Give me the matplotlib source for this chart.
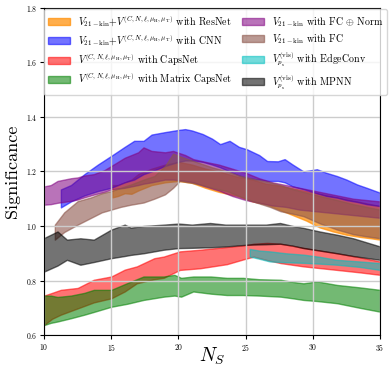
import matplotlib
matplotlib.use("Agg")
import matplotlib.pyplot as plt

plt.rcParams['font.family'] = 'serif'
plt.rcParams['font.serif'] = ['cmr10', 'DejaVu Serif']
plt.rcParams['mathtext.fontset'] = 'cm'
plt.rcParams['axes.formatter.use_mathtext'] = True

# ResNet (orange)
x_res = [15.1, 15.5, 16, 16.5, 17, 17.5, 18, 19, 20, 21, 22, 23, 24.4, 25.5, 26.5, 27.5,
         28.5, 29.5, 30.5, 31.5, 32.5, 33.5, 34.3, 35]
hi_res = [1.15, 1.15, 1.16, 1.17, 1.19, 1.20, 1.21, 1.225, 1.235, 1.225, 1.21, 1.20, 1.18, 1.17,
          1.155, 1.148, 1.138, 1.128, 1.118, 1.108, 1.098, 1.088, 1.08, 1.073]
lo_res = [1.105, 1.11, 1.12, 1.118, 1.13, 1.14, 1.15, 1.16, 1.165, 1.158, 1.14, 1.125, 1.11, 1.09,
          1.08, 1.06, 1.04, 1.02, 0.995, 0.98, 0.968, 0.96, 0.955, 0.95]

# CNN (blue)
x_cnn = [11.25, 12, 13, 14, 15, 16, 16.7, 17.4, 18, 19, 20, 20.5, 21, 21.8, 22.5, 23.1, 23.8,
         24.5, 25.1, 26, 26.6, 27.4, 27.9, 28.5, 29.3, 30.3, 31, 31.8, 32.5, 33.3, 34, 35]
hi_cnn = [1.134, 1.15, 1.19, 1.225, 1.257, 1.29, 1.312, 1.312, 1.335, 1.344, 1.352, 1.355, 1.35,
          1.337, 1.32, 1.30, 1.312, 1.29, 1.281, 1.26, 1.238, 1.237, 1.245, 1.225, 1.20, 1.208,
          1.195, 1.183, 1.17, 1.152, 1.14, 1.122]
lo_cnn = [1.068, 1.09, 1.112, 1.128, 1.14, 1.16, 1.17, 1.19, 1.20, 1.22, 1.235, 1.24, 1.24,
          1.235, 1.225, 1.215, 1.20, 1.185, 1.176, 1.17, 1.165, 1.165, 1.16, 1.145, 1.135, 1.12,
          1.11, 1.104, 1.095, 1.088, 1.08, 1.073]

# CapsNet (red)
x_caps = [10, 10.6, 11.24, 12.5, 13.7, 15, 16, 16.9, 18.2, 18.9, 20.1, 21.6, 23.6, 25, 25.6,
          26.6, 27.6, 29.3, 31.8, 33.5, 35]
hi_caps = [0.745, 0.755, 0.766, 0.773, 0.803, 0.815, 0.84, 0.852, 0.882, 0.888, 0.907, 0.913,
           0.923, 0.93, 0.935, 0.938, 0.935, 0.92, 0.90, 0.885, 0.87]
lo_caps = [0.637, 0.66, 0.675, 0.698, 0.72, 0.735, 0.76, 0.79, 0.805, 0.81, 0.839, 0.845, 0.86,
           0.88, 0.888, 0.875, 0.864, 0.852, 0.839, 0.83, 0.821]

# Matrix CapsNet (green)
x_mcaps = [10, 10.5, 11, 12, 13, 13.7, 15, 16.2, 17.4, 18.9, 19.7, 20.2, 21.1, 22.4, 23.6, 24.8,
           26, 27.6, 28.5, 29.3, 30.3, 31.8, 33.5, 35]
hi_mcaps = [0.745, 0.745, 0.74, 0.745, 0.755, 0.766, 0.766, 0.791, 0.815, 0.815, 0.821, 0.81,
            0.815, 0.815, 0.81, 0.81, 0.805, 0.803, 0.795, 0.79, 0.797, 0.784, 0.775, 0.766]
lo_mcaps = [0.637, 0.645, 0.65, 0.662, 0.675, 0.685, 0.704, 0.715, 0.729, 0.741, 0.745, 0.741,
            0.76, 0.752, 0.747, 0.747, 0.745, 0.741, 0.735, 0.729, 0.725, 0.717, 0.70, 0.686]

# FC + Norm (purple)
x_fcn = [10, 10.5, 11, 12, 12.5, 13, 13.7, 14.5, 15, 16, 17, 17.4, 18, 19, 19.6, 20.5, 21.1, 22,
         23, 24, 25, 26, 27, 28, 29, 30, 31, 32, 33, 34, 35]
hi_fcn = [1.145, 1.15, 1.165, 1.175, 1.178, 1.185, 1.19, 1.205, 1.22, 1.25, 1.27, 1.288, 1.275,
          1.27, 1.275, 1.26, 1.245, 1.235, 1.225, 1.21, 1.195, 1.175, 1.16, 1.15, 1.14, 1.13,
          1.12, 1.11, 1.10, 1.095, 1.09]
lo_fcn = [1.078, 1.08, 1.085, 1.092, 1.097, 1.105, 1.115, 1.125, 1.134, 1.14, 1.15, 1.155, 1.16,
          1.17, 1.17, 1.165, 1.16, 1.145, 1.13, 1.11, 1.095, 1.085, 1.075, 1.07, 1.06, 1.055,
          1.05, 1.045, 1.04, 1.035, 1.03]

# FC (brown)
x_fc = [10.8, 11.5, 12.5, 13.5, 14.3, 15, 15.7, 16.45, 17.4, 18.2, 19, 19.6, 20.1, 21, 21.6,
        22.5, 23.6, 24.5, 25.8, 26.8, 27.6, 28.5, 29.3, 30.5, 31.8, 33, 34, 35]
hi_fc = [1.005, 1.05, 1.091, 1.105, 1.12, 1.128, 1.14, 1.152, 1.17, 1.183, 1.22, 1.265, 1.255,
         1.24, 1.23, 1.215, 1.20, 1.185, 1.17, 1.16, 1.15, 1.135, 1.125, 1.11, 1.095, 1.08,
         1.07, 1.06]
lo_fc = [0.95, 0.978, 1.005, 1.03, 1.05, 1.06, 1.07, 1.078, 1.086, 1.10, 1.116, 1.14, 1.165,
         1.158, 1.152, 1.14, 1.128, 1.11, 1.086, 1.07, 1.054, 1.045, 1.036, 1.01, 0.987, 0.97,
         0.962, 0.955]

# EdgeConv (cyan)
x_edge = [25.3, 26, 26.8, 28, 29.3, 30.5, 31.8, 33.5, 35]
hi_edge = [0.916, 0.91, 0.907, 0.90, 0.895, 0.887, 0.876, 0.87, 0.864]
lo_edge = [0.888, 0.88, 0.87, 0.867, 0.865, 0.862, 0.858, 0.85, 0.839]

# MPNN (black)
x_mpnn = [10, 11, 11.7, 12.7, 13.7, 15, 16, 16.45, 17.4, 18.9, 20, 21, 22.35, 23.5, 25, 26.5,
          27.56, 28.5, 29.3, 30.5, 31.8, 33, 34, 35]
hi_mpnn = [0.956, 0.98, 0.95, 0.955, 0.95, 0.987, 1.005, 0.994, 1.0, 1.005, 1.009, 1.005, 1.011,
           1.005, 1.005, 1.005, 1.011, 1.0, 0.993, 0.98, 0.968, 0.955, 0.94, 0.925]
lo_mpnn = [0.833, 0.855, 0.876, 0.858, 0.868, 0.882, 0.89, 0.894, 0.90, 0.913, 0.919, 0.92,
           0.922, 0.925, 0.931, 0.933, 0.935, 0.928, 0.919, 0.91, 0.90, 0.89, 0.883, 0.876]

fig = plt.figure(figsize=(3.9, 3.77), dpi=100)
ax = fig.add_axes([0.113, 0.111, 0.8615, 0.8687])

a = 0.55
ax.fill_between(x_res, lo_res, hi_res, color='darkorange', alpha=0.7,
                label=r'$V_{21-{\rm kin}}$+$V^{(C,N,\ell,\mu_{\rm H},\mu_{\rm T})}$ with ResNet')
ax.fill_between(x_cnn, lo_cnn, hi_cnn, color='blue', alpha=a,
                label=r'$V_{21-{\rm kin}}$+$V^{(C,N,\ell,\mu_{\rm H},\mu_{\rm T})}$ with CNN')
ax.fill_between(x_caps, lo_caps, hi_caps, color='red', alpha=a,
                label=r'$V^{(C,N,\ell,\mu_{\rm H},\mu_{\rm T})}$ with CapsNet')
ax.fill_between(x_mcaps, lo_mcaps, hi_mcaps, color='green', alpha=a,
                label=r'$V^{(C,N,\ell,\mu_{\rm H},\mu_{\rm T})}$ with Matrix CapsNet')
ax.fill_between(x_fcn, lo_fcn, hi_fcn, color='purple', alpha=0.55,
                label=r'$V_{21-{\rm kin}}$ with FC $\oplus$ Norm')
ax.fill_between(x_fc, lo_fc, hi_fc, color='tab:brown', alpha=0.6,
                label=r'$V_{21-{\rm kin}}$ with FC')
ax.fill_between(x_edge, lo_edge, hi_edge, color='c', alpha=a,
                label=r'$V_{p_{\rm s}}^{({\rm vis})}$ with EdgeConv')
ax.fill_between(x_mpnn, lo_mpnn, hi_mpnn, color='black', alpha=a,
                label=r'$V_{p_{\rm s}}^{({\rm vis})}$ with MPNN')

ax.set_xlim(10, 35)
ax.set_ylim(0.6, 1.8)
ax.set_xticks([10, 15, 20, 25, 30, 35])
ax.set_yticks([0.6, 0.8, 1.0, 1.2, 1.4, 1.6, 1.8])
ax.tick_params(labelsize=5.5, length=3, width=0.8, pad=2)
ax.grid(True, color='0.8', linewidth=1)
ax.set_xlabel(r'$N_S$', fontsize=14, labelpad=-5)
ax.set_ylabel('Significance', fontsize=13, labelpad=4)

ax.legend(loc='upper center', bbox_to_anchor=(0.51, 1.01), ncol=2, fontsize=7.2,
          framealpha=0.8, columnspacing=1.0, handlelength=2.2, labelspacing=0.35)

fig.savefig('out.png', dpi=100)
